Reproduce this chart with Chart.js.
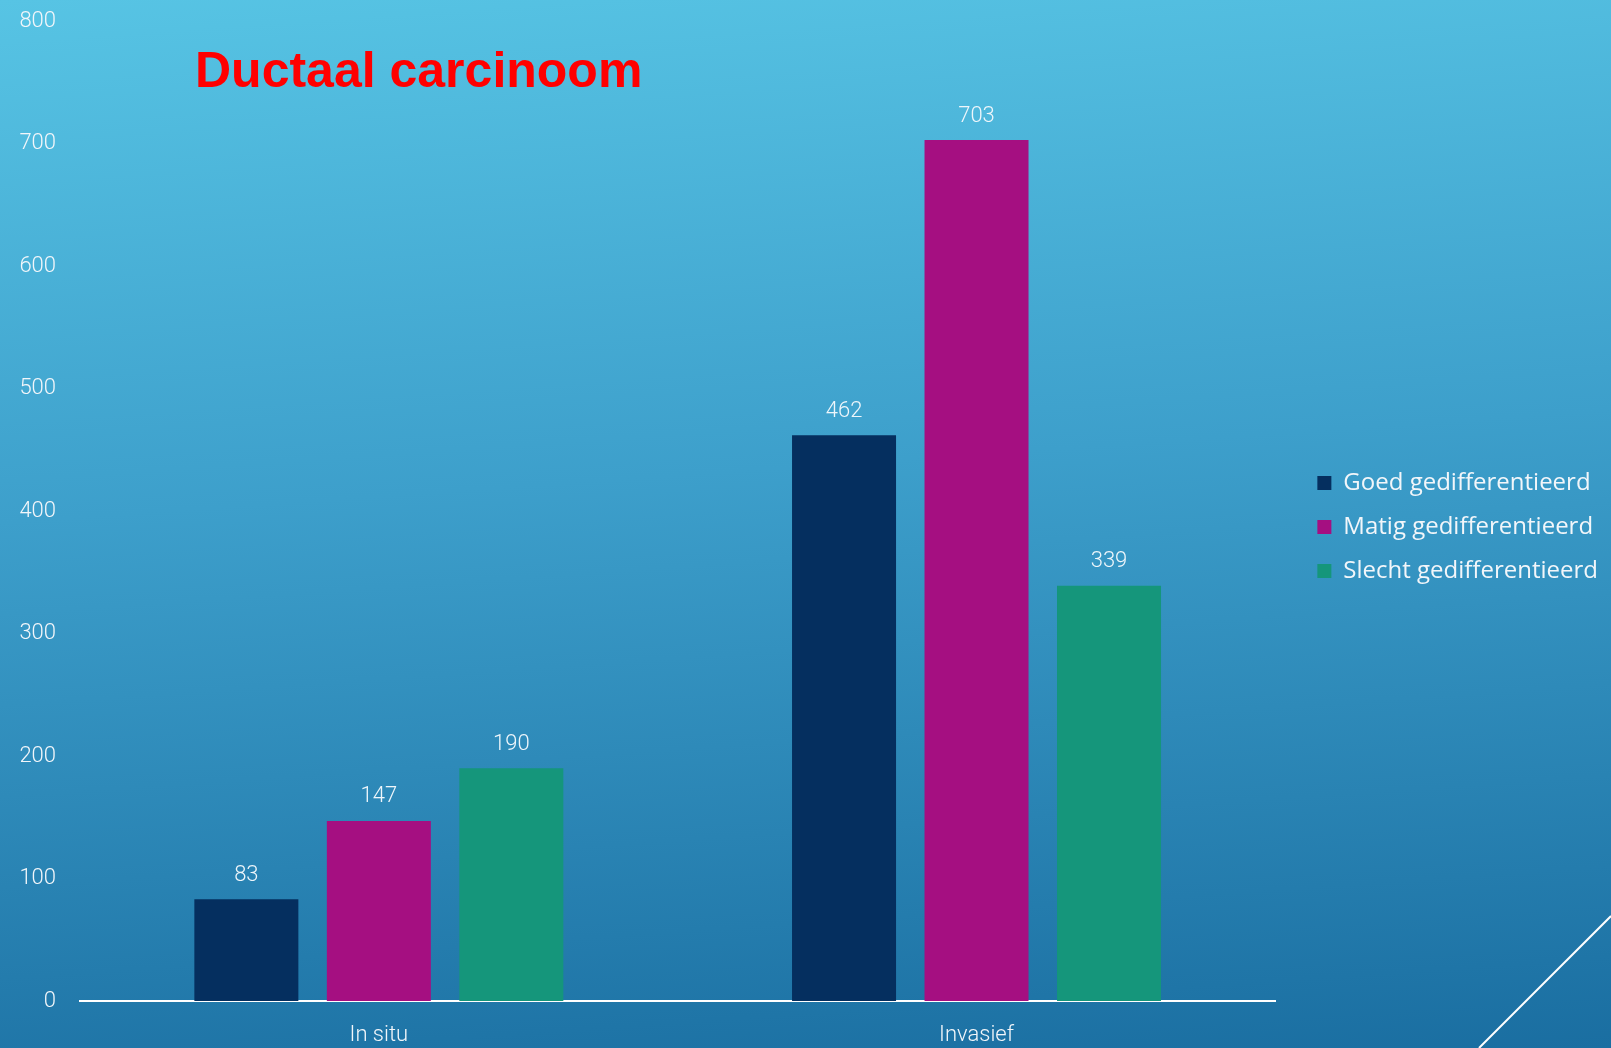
<!DOCTYPE html>
<html>
<head>
<meta charset="utf-8">
<script src="https://cdn.jsdelivr.net/npm/chart.js@4.4.1/dist/chart.umd.min.js"></script>
<style>
  html, body { margin: 0; padding: 0; width: 1611px; height: 1048px; overflow: hidden; }
  body { background: linear-gradient(176deg, #57c4e4 0%, #3d9fcb 45%, #1a6ea1 100%); position: relative; }
  #wrap { position: absolute; left: 0; top: 0; width: 1611px; height: 1048px; }
  #title { position: absolute; left: 195px; top: 45px; font-family: "Liberation Sans", Arial, sans-serif; font-weight: bold; font-size: 50px; line-height: 50px; color: #ff0000; white-space: nowrap; }
  .pre { position: absolute; left: -9999px; }
</style>
</head>
<body>
<div id="wrap"><canvas id="c" width="1611" height="1048"></canvas></div>
<div id="title">Ductaal carcinoom</div>
<span class="pre" style="font-family:'Open Sans';font-size:24px">Goed</span>
<span class="pre" style="font-family:Roboto;font-weight:300;font-size:22px">800</span>
<script>
const categories = ["In situ", "Invasief"];
const seriesNames = ["Goed gedifferentieerd", "Matig gedifferentieerd", "Slecht gedifferentieerd"];
const goed = [83, 462];
const matig = [147, 703];
const slecht = [190, 339];
const seriesColors = ["#052f5f", "#a50f81", "#15967b"];
const yMax = 800;
const yStep = 100;

const valueLabels = {
  id: 'valueLabels',
  afterDatasetsDraw(chart) {
    const ctx = chart.ctx;
    ctx.save();
    ctx.font = '300 22px Roboto, sans-serif';
    ctx.fillStyle = '#eef6fb';
    ctx.textAlign = 'center';
    ctx.textBaseline = 'middle';
    chart.data.datasets.forEach((ds, i) => {
      const meta = chart.getDatasetMeta(i);
      meta.data.forEach((el, j) => {
        ctx.fillText(String(ds.data[j]), el.x, el.y - 24);
      });
    });
    ctx.restore();
  }
};

const cornerLine = {
  id: 'cornerLine',
  afterDraw(chart) {
    const ctx = chart.ctx, w = chart.width, h = chart.height;
    ctx.save();
    ctx.strokeStyle = '#ffffff';
    ctx.lineWidth = 2;
    ctx.beginPath();
    ctx.moveTo(w, h - 132);
    ctx.lineTo(w - 132, h);
    ctx.stroke();
    ctx.restore();
  }
};

function build() {
  new Chart(document.getElementById('c'), {
    type: 'bar',
    data: {
      labels: categories,
      datasets: [
        { label: seriesNames[0], data: goed, backgroundColor: seriesColors[0] },
        { label: seriesNames[1], data: matig, backgroundColor: seriesColors[1] },
        { label: seriesNames[2], data: slecht, backgroundColor: seriesColors[2] }
      ]
    },
    options: {
      responsive: false,
      animation: false,
      devicePixelRatio: 1,
      layout: { padding: { top: 0, right: 3, left: 0, bottom: 0 } },
      datasets: { bar: { categoryPercentage: 0.665, barPercentage: 0.785 } },
      plugins: {
        legend: {
          position: 'right',
          align: 'center',
          maxWidth: 360,
          title: { display: true, text: ' ', font: { size: 5 }, padding: 0 },
          labels: {
            color: '#f2f6fa',
            font: { family: '"Open Sans", sans-serif', size: 24 },
            boxWidth: 14,
            boxHeight: 14,
            padding: 20
          }
        },
        tooltip: { enabled: false }
      },
      scales: {
        x: {
          grid: { display: false, drawTicks: false },
          border: { display: true, color: '#ffffff', width: 2 },
          ticks: { color: '#f2f6fa', font: { family: 'Roboto, sans-serif', size: 22, weight: 300 }, padding: 21 },
          afterFit(s) { s.height = 47; }
        },
        y: {
          min: 0, max: yMax,
          grid: { display: false, drawTicks: true, tickLength: 16 },
          border: { display: false },
          ticks: { stepSize: yStep, color: '#f2f6fa', font: { family: 'Roboto, sans-serif', size: 22, weight: 300 }, padding: 8 },
          afterFit(s) { s.width = 80; }
        },
        gap: {
          type: 'linear',
          position: 'right',
          display: true,
          grid: { display: false, drawTicks: false },
          border: { display: false },
          ticks: { display: false },
          afterFit(s) { s.width = 22; }
        }
      }
    },
    plugins: [valueLabels, cornerLine]
  });
}

Promise.all([
  document.fonts.load('24px "Open Sans"'),
  document.fonts.load('300 22px Roboto'),
  document.fonts.load('bold 50px "Liberation Sans"')
]).then(build, build);
</script>
</body>
</html>
